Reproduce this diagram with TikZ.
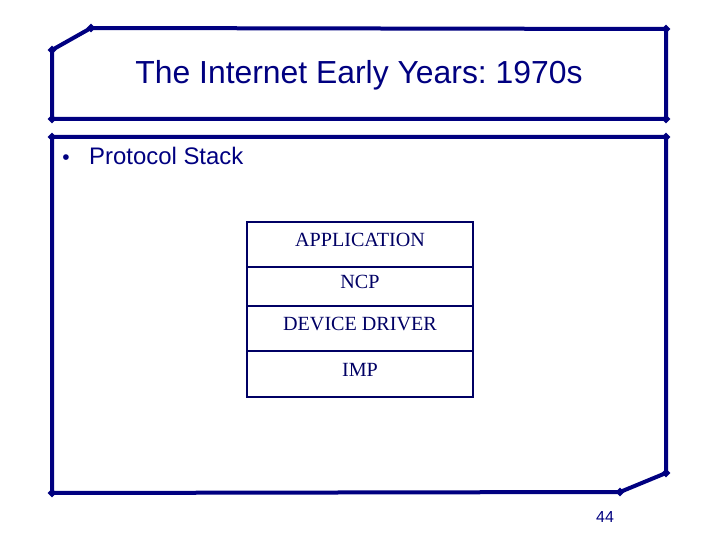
\documentclass[tikz,border=0pt]{standalone}
\usepackage{fontspec}
\setmainfont{Liberation Sans}
\newfontfamily\stackfont{Liberation Serif}
\definecolor{slidenavy}{RGB}{0,0,128}
\definecolor{stacknavy}{RGB}{0,0,100}
\usetikzlibrary{shapes.geometric, positioning}
\frenchspacing

\begin{document}
\begin{tikzpicture}[x = 1bp, y = -1bp,
	corner/.style = {diamond, fill = slidenavy, inner sep = 0pt, minimum size = 9bp},
	frame/.style = {draw = slidenavy, line width = 4bp, line join = round},
	layer/.style = {rectangle, draw = stacknavy, line width = 2.6bp, minimum width = 226bp, inner sep = 0pt, outer sep = 0pt, text height = 14bp, text depth = 10bp, text = stacknavy, font = \stackfont\fontsize{20.2}{23}\selectfont}]
\useasboundingbox (0,0) rectangle (720,540);

% title frame
\node[corner] (t1) at (52,50) {};
\node[corner] (t2) at (91,28) {};
\node[corner] (t3) at (666,29) {};
\node[corner] (t4) at (666,119) {};
\node[corner] (t5) at (52,119) {};
\draw[frame] (t1.center) -- (t2.center) -- (t3.center) -- (t4.center) -- (t5.center) -- cycle;
\node[text = slidenavy, font = \fontsize{32}{38}\selectfont] (title) at (359,75) {The Internet Early Years: 1970s};

% body frame
\node[corner] (b1) at (52,137) {};
\node[corner] (b2) at (666,137) {};
\node[corner] (b3) at (666,473) {};
\node[corner] (b4) at (620,492) {};
\node[corner] (b5) at (52,493) {};
\draw[frame] (b1.center) -- (b2.center) -- (b3.center) -- (b4.center) -- (b5.center) -- cycle;

\node[text = slidenavy, font = \fontsize{21}{24}\selectfont] (bullet) at (66,160) {\textbullet};
\node[anchor = west, inner sep = 0pt, text = slidenavy, font = \fontsize{24}{28}\selectfont] (stack) at (89,156) {Protocol Stack};

% stack
\node[layer, minimum height = 45bp] (app) at (360,244.5) {APPLICATION};
\node[layer, minimum height = 39bp, below = 0pt of app] (ncp) {NCP};
\node[layer, minimum height = 45bp, below = 0pt of ncp] (driver) {DEVICE DRIVER};
\node[layer, minimum height = 46bp, below = 0pt of driver] (imp) {IMP};

\node[text = slidenavy, font = \fontsize{16}{19}\selectfont] (page) at (605,517) {44};
\end{tikzpicture}
\end{document}
